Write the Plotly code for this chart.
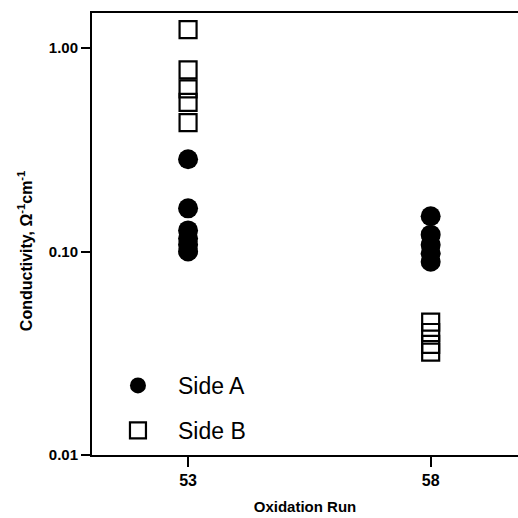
import plotly.graph_objects as go

run_a = [53, 53, 53, 53, 53, 53, 58, 58, 58, 58, 58]
side_a = [0.284, 0.163, 0.127, 0.116, 0.108, 0.100, 0.149, 0.121, 0.108, 0.098, 0.089]
run_b = [53, 53, 53, 53, 53, 58, 58, 58, 58]
side_b = [1.23, 0.78, 0.63, 0.54, 0.43, 0.045, 0.040, 0.035, 0.032]

ytick_vals = [0.01, 0.1, 1.0]
ytick_text = ["<b>0.01</b>", "<b>0.10</b>", "<b>1.00</b>"]
xtick_vals = [53, 58]
xtick_text = ["<b>53</b>", "<b>58</b>"]

font = "Liberation Sans, Arial, sans-serif"

fig = go.Figure()
fig.add_trace(go.Scatter(
    x=run_a, y=side_a, mode="markers", name="Side A", legendgroup="a",
    marker=dict(symbol="circle", size=20, color="black", line=dict(width=0)),
))
fig.add_trace(go.Scatter(
    x=run_b, y=side_b, mode="markers", name="Side B", legendgroup="b",
    marker=dict(symbol="square-open", size=17, color="black", line=dict(width=2.2)),
))

fig.update_layout(
    width=518, height=518,
    margin=dict(l=92, r=0, t=13, b=63),
    paper_bgcolor="white", plot_bgcolor="white",
    font=dict(family=font, color="black"),
    showlegend=True,
    legend=dict(
        x=0.014, y=0.206, xanchor="left", yanchor="top",
        font=dict(size=23, family=font, color="black"),
        bgcolor="rgba(0,0,0,0)", itemsizing="trace", itemwidth=70,
        tracegroupgap=12,
    ),
    xaxis=dict(
        range=[51.02, 59.8], tickvals=xtick_vals, ticktext=xtick_text,
        showline=True, linecolor="black", linewidth=2, mirror=True,
        ticks="outside", ticklen=10, tickwidth=2, tickcolor="black",
        showgrid=False, zeroline=False,
        tickfont=dict(size=16, family=font),
        title=dict(text="<b>Oxidation Run</b>", font=dict(size=15, family=font), standoff=13),
    ),
    yaxis=dict(
        type="log", range=[-2, 0.172], tickvals=ytick_vals, ticktext=ytick_text,
        showline=True, linecolor="black", linewidth=2, mirror=False,
        ticks="outside", ticklen=9, tickwidth=2, tickcolor="black",
        showgrid=False, zeroline=False,
        tickfont=dict(size=15, family=font),
    ),
    annotations=[dict(
        text="<b>Conductivity, Ω<sup>-1</sup>cm<sup>-1</sup></b>",
        xref="paper", yref="paper", x=-0.157, y=0.4615,
        xanchor="center", yanchor="middle", textangle=-90, showarrow=False,
        font=dict(size=16, family=font, color="black"),
    )],
)

fig.write_html("out.html")
